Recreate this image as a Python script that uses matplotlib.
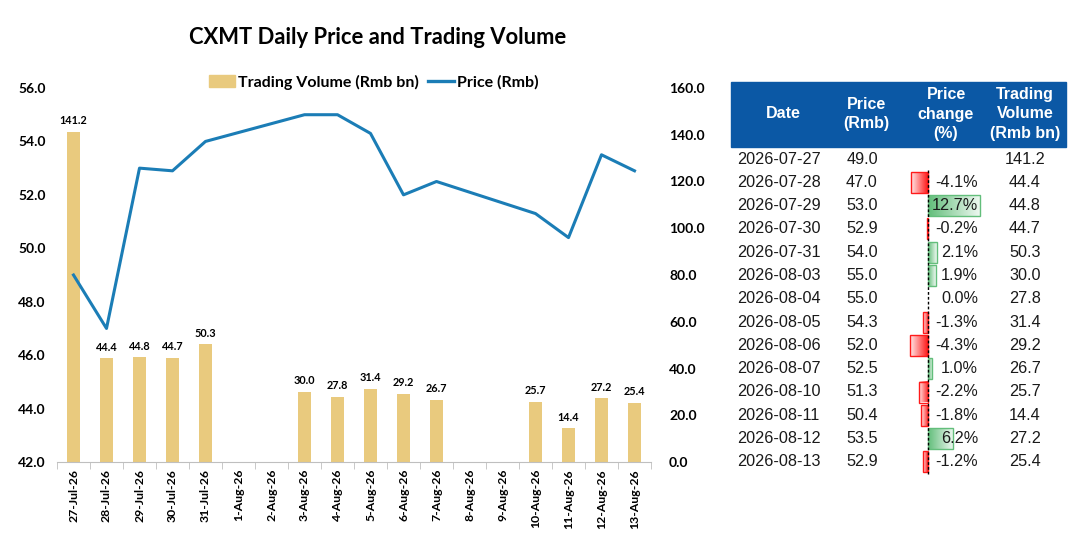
import numpy as np
import matplotlib.pyplot as plt
from matplotlib.patches import Rectangle, Patch
from matplotlib.lines import Line2D
from matplotlib.colors import LinearSegmentedColormap
from datetime import date, timedelta

# trading days shown in the table
trade_dates = ["2026-07-27", "2026-07-28", "2026-07-29", "2026-07-30", "2026-07-31",
               "2026-08-03", "2026-08-04", "2026-08-05", "2026-08-06", "2026-08-07",
               "2026-08-10", "2026-08-11", "2026-08-12", "2026-08-13"]
price = [49.0, 47.0, 53.0, 52.9, 54.0, 55.0, 55.0, 54.3, 52.0, 52.5, 51.3, 50.4, 53.5, 52.9]
price_change = [None, -4.1, 12.7, -0.2, 2.1, 1.9, 0.0, -1.3, -4.3, 1.0, -2.2, -1.8, 6.2, -1.2]
volume = [141.2, 44.4, 44.8, 44.7, 50.3, 30.0, 27.8, 31.4, 29.2, 26.7, 25.7, 14.4, 27.2, 25.4]

start_day = date(2026, 7, 27)
n_days = 18
calendar_days = [start_day + timedelta(days=i) for i in range(n_days)]
day_labels = [f"{d.day}-{d.strftime('%b')}-26" for d in calendar_days]

BAR_COLOR = "#E9CA7E"
LINE_COLOR = "#1B7DB6"
HEADER_BLUE = "#0B58A5"
CHART_FONT = ["Lato", "DejaVu Sans"]
TABLE_FONT = ["Liberation Sans", "DejaVu Sans"]

W, H = 1080, 556
fig = plt.figure(figsize=(W / 100, H / 100), dpi=100)


def px_axes(x0, y0, x1, y1):
    # axes placed by pixel box (top-left origin)
    return fig.add_axes([x0 / W, 1 - y1 / H, (x1 - x0) / W, (y1 - y0) / H])


# ---------------- chart ----------------
ax_v = px_axes(57, 88, 651, 462)
ax_p = ax_v.twinx()

pos = [(date.fromisoformat(d) - start_day).days for d in trade_dates]

ax_v.bar(pos, volume, width=0.38, color=BAR_COLOR, zorder=2)
for x, v in zip(pos, volume):
    ax_v.annotate(f"{v:.1f}", (x, v), xytext=(0, 4), textcoords="offset points",
                  ha="center", va="bottom", fontsize=7.8, fontweight="bold",
                  family=CHART_FONT)
ax_v.set_ylim(0, 160)
ax_v.set_yticks(np.arange(0, 161, 20))
ax_v.set_yticklabels([f"{t:.1f}" for t in np.arange(0, 161, 20)])
ax_v.yaxis.tick_right()

ax_p.plot(pos, price, color=LINE_COLOR, lw=2.2, zorder=3)
ax_p.set_ylim(42, 56)
ax_p.set_yticks(np.arange(42, 56.1, 2))
ax_p.set_yticklabels([f"{t:.1f}" for t in np.arange(42, 56.1, 2)])
ax_p.yaxis.tick_left()

for a in (ax_v, ax_p):
    for s in ("top", "left", "right"):
        a.spines[s].set_visible(False)
    a.spines["bottom"].set_color("#BFBFBF")
    a.tick_params(axis="y", length=0, labelsize=10)
    for lab in a.get_yticklabels():
        lab.set_fontweight("bold")
        lab.set_family(CHART_FONT)
ax_p.spines["bottom"].set_visible(False)
ax_p.tick_params(axis="y", pad=8)
ax_v.tick_params(axis="y", pad=13)

ax_v.set_xlim(-0.5, n_days - 0.5)
ax_v.set_xticks(range(n_days))
ax_v.set_xticklabels(day_labels, rotation=90, fontsize=8.8, fontweight="bold",
                     family=CHART_FONT)
ax_v.set_xticks(np.arange(-0.5, n_days, 1), minor=True)
ax_v.tick_params(axis="x", which="major", length=0, pad=5)
ax_v.tick_params(axis="x", which="minor", length=5, color="#BFBFBF")

fig.text(378 / W, 1 - 38 / H, "CXMT Daily Price and Trading Volume", ha="center",
         va="center", fontsize=15.8, fontweight="bold", family=CHART_FONT)

handles = [Patch(color=BAR_COLOR, label="Trading Volume (Rmb bn)"),
           Line2D([], [], color=LINE_COLOR, lw=2.4, label="Price (Rmb)")]
fig.legend(handles=handles, loc="center", bbox_to_anchor=(374 / W, 1 - 82 / H),
           ncol=2, frameon=False, handlelength=1.6, handleheight=0.8,
           columnspacing=0.6, handletextpad=0.2,
           prop={"family": CHART_FONT, "weight": "bold", "size": 11.5})

# ---------------- table ----------------
tx0, ty0, tx1, ty1 = 728, 80, 1068, 478
tab = px_axes(tx0, ty0, tx1, ty1)
tab.set_zorder(3)
tab.set_xlim(tx0, tx1)
tab.set_ylim(ty1, ty0)
tab.axis("off")

tab.add_patch(Rectangle((731, 82), 335, 65, color=HEADER_BLUE))
headers = [("Date", 783), ("Price\n(Rmb)", 866), ("Price\nchange\n(%)", 946),
           ("Trading\nVolume\n(Rmb bn)", 1025)]
for txt, hx in headers:
    tab.text(hx, 114, txt, ha="center", va="center", color="white", fontsize=11.5,
             fontweight="bold", family=TABLE_FONT, linespacing=1.4)

row_y = [159 + i * 23.3 for i in range(len(trade_dates))]
for y, d, p, c, v in zip(row_y, trade_dates, price, price_change, volume):
    kw = dict(va="center", fontsize=11.7, color="#1A1A1A", family=TABLE_FONT)
    tab.text(737, y, d, ha="left", **kw)
    tab.text(862, y, f"{p:.1f}", ha="center", **kw)
    tab.text(1025, y, f"{v:.1f}", ha="center", **kw)
    if c is not None:
        tab.text(978, y, f"{c:.1f}%", ha="right", **kw)

# data bars for price change, in % units
zero_px, k = 928, 4.1
bx0, bx1 = 900, 990
bars = px_axes(bx0, ty0, bx1, ty1)
bars.set_zorder(1)
bars.axis("off")
green_cmap = LinearSegmentedColormap.from_list("g", ["#63BE7B", "#FFFFFF"])
red_cmap = LinearSegmentedColormap.from_list("r", ["#FF1A1A", "#FFFFFF"])
grad = np.linspace(0, 0.9, 64).reshape(1, -1)
for y, c in zip(row_y, price_change):
    if not c:
        continue
    cmap, edge = (green_cmap, "#63BE7B") if c > 0 else (red_cmap, "#FF1A1A")
    bars.imshow(grad, cmap=cmap, vmin=0, vmax=1, aspect="auto",
                extent=[0, c, y + 10.5, y - 10.5], zorder=1)
    bars.add_patch(Rectangle((min(0, c), y - 10.5), abs(c), 21, fill=False,
                             edgecolor=edge, lw=1, zorder=2))
bars.plot([0, 0], [row_y[1] - 12, row_y[-1] + 12], color="black", lw=1,
          ls=(0, (2, 1.5)), zorder=3)
bars.set_xlim((bx0 - zero_px) / k, (bx1 - zero_px) / k)
bars.set_ylim(ty1, ty0)

fig.savefig("out.png", dpi=100)
